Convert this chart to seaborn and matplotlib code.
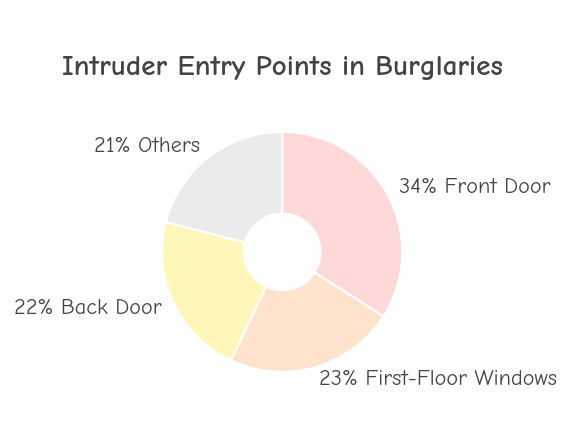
import matplotlib
matplotlib.use("Agg")
import matplotlib.pyplot as plt
import seaborn as sns

categories = ["Front Door", "First-Floor Windows", "Back Door", "Others"]
shares = [34, 23, 22, 21]
colors = ["#FFD8D8", "#FFE3CC", "#FFF7BA", "#EBEBEB"]

sns.set_theme(style="white")
plt.rcParams['font.family'] = ['Comic Neue', 'Lato', 'DejaVu Sans']

fig = plt.figure(figsize=(5.7, 4.45), dpi=100)
ax = fig.add_axes([0.495 - 0.2105, 0.434 - 0.2697, 0.421, 0.5393])

labels = [f"{v}% {c}" for v, c in zip(shares, categories)]
wedges, texts = ax.pie(
    shares, labels=labels, colors=colors, startangle=90, counterclock=False,
    labeldistance=1.11, radius=1,
    wedgeprops=dict(width=0.68, edgecolor="white", linewidth=1.5),
    textprops=dict(fontsize=16, color="#444444"),
)
ax.set_xlim(-1, 1)
ax.set_ylim(-1, 1)
ax.set_aspect("equal")

fig.text(0.495, 0.847, "Intruder Entry Points in Burglaries", ha="center", va="center",
         fontsize=21, fontweight="bold", color="#444444")

fig.savefig("out.png", dpi=100)
